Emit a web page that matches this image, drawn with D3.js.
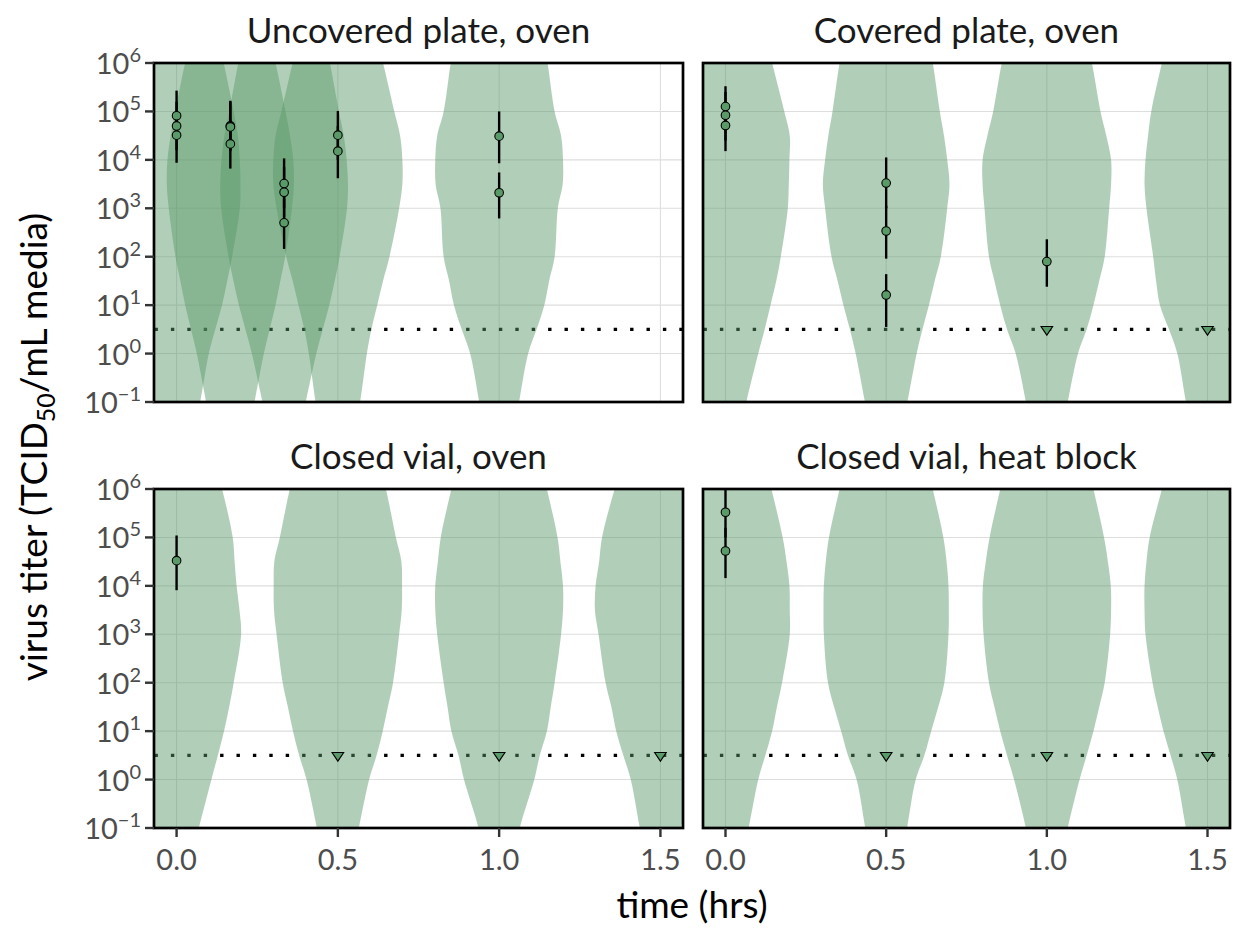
<!DOCTYPE html>
<html>
<head>
<meta charset="utf-8">
<script src="https://cdn.jsdelivr.net/npm/d3@7"></script>
<style>
body { margin: 0; background: #fff; }
text { font-family: Lato, 'Liberation Sans', sans-serif; }
</style>
</head>
<body>
<svg id="chart" width="1233" height="928"></svg>
<script>
var panelTitles = ['Uncovered plate, oven', 'Covered plate, oven', 'Closed vial, oven', 'Closed vial, heat block'];
var xTicks = [0, 0.5, 1, 1.5];
var yExponents = [-1, 0, 1, 2, 3, 4, 5, 6];
var detectionLog10 = 0.5;

// violin outlines: half width (hrs) at each log10 titer level
var violinLevels = [-1.5, -1, 0, 0.5, 1, 1.5, 2, 3, 3.5, 4, 4.5, 5, 6, 6.5];
var violinTimes = [
	[0, 1/6, 1/3, 0.5, 1],
	[0, 0.5, 1, 1.5],
	[0, 0.5, 1, 1.5],
	[0, 0.5, 1, 1.5]
];
var violinHalfWidths = [
	[
		[0.055, 0.073, 0.100, 0.120, 0.141, 0.157, 0.172, 0.196, 0.198, 0.196, 0.190, 0.177, 0.146, 0.128],
		[0.060, 0.075, 0.104, 0.122, 0.140, 0.155, 0.170, 0.191, 0.197, 0.195, 0.185, 0.171, 0.140, 0.120],
		[0.050, 0.067, 0.100, 0.120, 0.140, 0.157, 0.172, 0.195, 0.198, 0.194, 0.185, 0.170, 0.142, 0.125],
		[0.055, 0.069, 0.090, 0.104, 0.122, 0.140, 0.160, 0.190, 0.200, 0.200, 0.193, 0.175, 0.140, 0.120],
		[0.050, 0.062, 0.090, 0.116, 0.140, 0.155, 0.172, 0.182, 0.197, 0.198, 0.192, 0.172, 0.150, 0.135]
	],
	[
		[0.050, 0.065, 0.102, 0.122, 0.140, 0.158, 0.172, 0.194, 0.197, 0.199, 0.200, 0.183, 0.145, 0.125],
		[0.050, 0.066, 0.095, 0.113, 0.133, 0.151, 0.170, 0.190, 0.197, 0.190, 0.180, 0.167, 0.145, 0.130],
		[0.050, 0.065, 0.097, 0.124, 0.145, 0.163, 0.180, 0.194, 0.200, 0.200, 0.185, 0.167, 0.140, 0.120],
		[0.050, 0.067, 0.094, 0.120, 0.148, 0.160, 0.169, 0.190, 0.196, 0.193, 0.185, 0.175, 0.142, 0.125]
	],
	[
		[0.050, 0.069, 0.108, 0.128, 0.147, 0.163, 0.177, 0.200, 0.195, 0.186, 0.180, 0.174, 0.141, 0.120],
		[0.050, 0.065, 0.097, 0.120, 0.139, 0.155, 0.171, 0.190, 0.198, 0.199, 0.197, 0.180, 0.149, 0.130],
		[0.050, 0.064, 0.109, 0.126, 0.148, 0.160, 0.172, 0.192, 0.198, 0.198, 0.190, 0.181, 0.148, 0.130],
		[0.050, 0.064, 0.092, 0.115, 0.137, 0.152, 0.170, 0.192, 0.203, 0.201, 0.190, 0.181, 0.142, 0.120]
	],
	[
		[0.055, 0.072, 0.102, 0.124, 0.145, 0.160, 0.176, 0.200, 0.200, 0.199, 0.190, 0.178, 0.143, 0.125],
		[0.050, 0.065, 0.092, 0.119, 0.140, 0.162, 0.181, 0.194, 0.195, 0.194, 0.188, 0.178, 0.145, 0.128],
		[0.050, 0.065, 0.102, 0.124, 0.145, 0.163, 0.180, 0.197, 0.200, 0.199, 0.190, 0.178, 0.145, 0.128],
		[0.050, 0.067, 0.094, 0.115, 0.137, 0.155, 0.171, 0.193, 0.196, 0.196, 0.190, 0.180, 0.142, 0.125]
	]
];

// measured titers (log10) with interval ends
var obsTime = [
	[0, 0, 0, 1/6, 1/6, 1/6, 1/3, 1/3, 1/3, 0.5, 0.5, 1, 1],
	[0, 0, 0, 0.5, 0.5, 0.5, 1],
	[0],
	[0, 0]
];
var obsLog10 = [
	[4.91, 4.70, 4.51, 4.70, 4.68, 4.33, 3.51, 3.33, 2.70, 4.51, 4.18, 4.49, 3.32],
	[5.10, 4.92, 4.71, 3.52, 2.53, 1.21, 1.90],
	[4.52],
	[5.52, 4.72]
];
var obsLower = [
	[4.43, 4.20, 3.94, 4.20, 4.18, 3.82, 3.00, 2.82, 2.16, 4.00, 3.62, 3.93, 2.79],
	[4.60, 4.40, 4.18, 3.00, 1.96, 0.55, 1.38],
	[3.91],
	[5.00, 4.16]
];
var obsUpper = [
	[5.43, 5.20, 5.00, 5.22, 5.20, 4.83, 4.03, 3.85, 3.20, 5.01, 4.70, 5.00, 3.74],
	[5.52, 5.40, 5.20, 4.05, 3.05, 1.64, 2.36],
	[5.04],
	[6.10, 5.20]
];
// samples below detection
var censoredTime = [
	[],
	[1, 1.5],
	[0.5, 1, 1.5],
	[0.5, 1, 1.5]
];

var w = 1233,
	h = 928,
	green = '#5a9a68',
	cols = [[154, 683], [703, 1230]],
	rows = [[63, 402], [489, 828]];

var svg = d3.select('#chart');
var defs = svg.append('defs');

function tenPow(v) { return Math.pow(10, v); }

panelTitles.forEach(function(title, p) {
	var cx = cols[p % 2], ry = rows[Math.floor(p / 2)];
	var x = d3.scaleLinear().domain([-0.07, 1.57]).range(cx);
	var y = d3.scaleLog().domain([0.1, 1e6]).range([ry[1], ry[0]]);
	var g = svg.append('g');

	defs.append('clipPath').attr('id', 'clip' + p)
		.append('rect')
		.attr('x', cx[0]).attr('y', ry[0])
		.attr('width', cx[1] - cx[0]).attr('height', ry[1] - ry[0]);

	var body = g.append('g').attr('clip-path', 'url(#clip' + p + ')');

	// grid
	body.selectAll('.gy').data(yExponents).enter().append('line')
		.attr('x1', cx[0]).attr('x2', cx[1])
		.attr('y1', function(d) { return y(tenPow(d)); })
		.attr('y2', function(d) { return y(tenPow(d)); })
		.style('stroke', '#dedede').style('stroke-width', 1.1);
	body.selectAll('.gx').data(xTicks).enter().append('line')
		.attr('y1', ry[0]).attr('y2', ry[1])
		.attr('x1', function(d) { return x(d); })
		.attr('x2', function(d) { return x(d); })
		.style('stroke', '#dedede').style('stroke-width', 1.1);

	// detection limit
	body.append('line')
		.attr('x1', cx[0] + 0.5).attr('x2', cx[1])
		.attr('y1', y(tenPow(detectionLog10))).attr('y2', y(tenPow(detectionLog10)))
		.style('stroke', '#000').style('stroke-width', 3.4)
		.style('stroke-dasharray', '3.4 13');

	// violins
	violinTimes[p].forEach(function(t, i) {
		var prof = violinLevels.map(function(lv, k) { return { lv: lv, hw: violinHalfWidths[p][i][k] }; });
		var area = d3.area()
			.y(function(d) { return y(tenPow(d.lv)); })
			.x0(function(d) { return x(t - d.hw); })
			.x1(function(d) { return x(t + d.hw); })
			.curve(d3.curveCatmullRom.alpha(0.5));
		body.append('path')
			.attr('d', area(prof))
			.style('fill', green)
			.style('fill-opacity', 0.47);
	});

	// intervals
	body.selectAll('.bar').data(obsTime[p]).enter().append('line')
		.attr('x1', function(d) { return x(d); })
		.attr('x2', function(d) { return x(d); })
		.attr('y1', function(d, i) { return y(tenPow(obsLower[p][i])); })
		.attr('y2', function(d, i) { return y(tenPow(obsUpper[p][i])); })
		.style('stroke', '#000').style('stroke-width', 2.4);

	body.selectAll('.pt').data(obsTime[p]).enter().append('circle')
		.attr('cx', function(d) { return x(d); })
		.attr('cy', function(d, i) { return y(tenPow(obsLog10[p][i])); })
		.attr('r', 4.3)
		.style('fill', green).style('stroke', '#000').style('stroke-width', 1.1);

	body.selectAll('.cens').data(censoredTime[p]).enter().append('path')
		.attr('transform', function(d) { return 'translate(' + x(d) + ',' + y(tenPow(detectionLog10)) + ')'; })
		.attr('d', 'M-5.8,-2.8L5.8,-2.8L0,5.8Z')
		.style('fill', green).style('stroke', '#000').style('stroke-width', 1.1);

	// border
	g.append('rect')
		.attr('x', cx[0]).attr('y', ry[0])
		.attr('width', cx[1] - cx[0]).attr('height', ry[1] - ry[0])
		.style('fill', 'none').style('stroke', '#000').style('stroke-width', 2.7);

	g.append('text')
		.attr('x', (cx[0] + cx[1]) / 2).attr('y', ry[0] - 20)
		.attr('text-anchor', 'middle')
		.style('font-size', '35px').style('fill', '#1a1a1a')
		.text(title);

	// y axis on left column
	if (p % 2 == 0) {
		var yt = g.selectAll('.yt').data(yExponents).enter().append('g')
			.attr('transform', function(d) { return 'translate(0,' + y(tenPow(d)) + ')'; });
		yt.append('line')
			.attr('x1', cx[0] - 9).attr('x2', cx[0])
			.style('stroke', '#333').style('stroke-width', 2.4);
		var lab = yt.append('text')
			.attr('x', cx[0] - 13).attr('y', 11)
			.attr('text-anchor', 'end')
			.style('font-size', '29px').style('fill', '#4d4d4d');
		lab.append('tspan').text('10');
		lab.append('tspan').attr('dy', -12).style('font-size', '20px')
			.text(function(d) { return d < 0 ? '\u2212' + (-d) : d; });
	}

	// x axis on bottom row
	if (p >= 2) {
		var xt = g.selectAll('.xt').data(xTicks).enter().append('g')
			.attr('transform', function(d) { return 'translate(' + x(d) + ',0)'; });
		xt.append('line')
			.attr('y1', ry[1]).attr('y2', ry[1] + 9)
			.style('stroke', '#333').style('stroke-width', 2.4);
		xt.append('text')
			.attr('y', ry[1] + 42)
			.attr('text-anchor', 'middle')
			.style('font-size', '29px').style('fill', '#4d4d4d')
			.text(function(d) { return d3.format('.1f')(d); });
	}
});

svg.append('text')
	.attr('x', 692).attr('y', 918)
	.attr('text-anchor', 'middle')
	.style('font-size', '37px').style('fill', '#000')
	.text('time (hrs)');

var yl = svg.append('text')
	.attr('transform', 'translate(47,447) rotate(-90)')
	.attr('text-anchor', 'middle')
	.style('font-size', '37px').style('fill', '#000');
yl.append('tspan').text('virus titer (TCID');
yl.append('tspan').attr('dy', 8).style('font-size', '25px').text('50');
yl.append('tspan').attr('dy', -8).text('/mL media)');
</script>
</body>
</html>
